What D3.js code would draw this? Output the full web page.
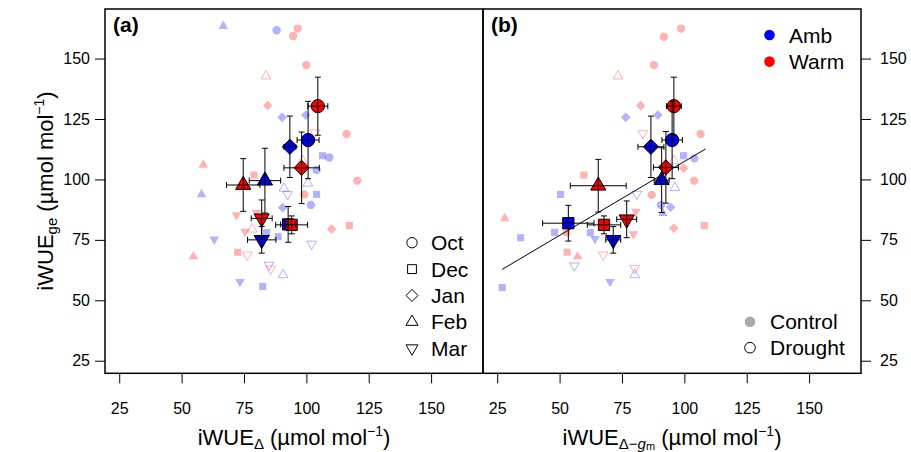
<!DOCTYPE html>
<html>
<head>
<meta charset="utf-8">
<script src="https://cdn.jsdelivr.net/npm/d3@7"></script>
<style>
  body { margin: 0; background: #fff; }
  text { font-family: "Liberation Sans", Arial, sans-serif; }
</style>
</head>
<body>
<script>
// months -> symbol, treatments -> colour, water -> filled / open
const months = ["Oct", "Dec", "Jan", "Feb", "Mar"];
const treatments = ["Amb", "Warm"];
const waterLevels = ["Control", "Drought"];
const yTicks = [25, 50, 75, 100, 125, 150];
const xTicks = [25, 50, 75, 100, 125, 150];

// individual points, panel (a): [month, treatment, water, iWUE_delta, iWUE_ge]
const pointsA = [
  ["Feb","Amb","C",66.7,163.4],["Oct","Amb","C",88.1,161.7],["Oct","Warm","C",94.7,159.3],
  ["Oct","Warm","C",96.5,162.4],["Oct","Warm","C",100,147.3],["Feb","Warm","D",83.8,142.7],
  ["Jan","Warm","C",84.5,130.6],["Jan","Amb","C",90.3,125.7],["Jan","Amb","C",99.8,126.6],
  ["Mar","Warm","D",103.4,119.3],["Oct","Warm","C",116.1,118.8],["Dec","Amb","C",106.5,109.8],
  ["Oct","Amb","C",109.2,109.1],["Oct","Amb","C",104.1,103.9],["Oct","Warm","C",120.4,99.5],
  ["Feb","Warm","D",98.5,107.7],["Feb","Amb","D",100.6,98.4],["Feb","Warm","C",58.7,106],
  ["Dec","Warm","C",79,101.8],["Feb","Amb","D",91,96.3],["Mar","Amb","D",92.5,93.8],
  ["Oct","Warm","C",99.2,93.8],["Dec","Amb","C",104.1,93.8],["Oct","Amb","C",101.8,89.4],
  ["Jan","Amb","C",90.5,88.3],["Jan","Warm","C",110.1,79.5],["Dec","Warm","C",117.2,80.9],
  ["Mar","Amb","D",102.1,73.3],["Feb","Warm","C",54.7,68.1],["Feb","Amb","C",58,93.8],
  ["Mar","Amb","C",63.1,75.2],["Mar","Warm","C",72,85.3],["Mar","Warm","C",80,86.2],
  ["Mar","Warm","C",75.4,78.4],["Feb","Warm","D",78.3,79.4],["Dec","Amb","C",84.1,78],
  ["Dec","Amb","C",88.7,76.3],["Dec","Warm","C",72.5,69.9],["Mar","Warm","D",76.3,68.8],
  ["Mar","Amb","D",85,64.6],["Mar","Warm","D",85.7,63],["Feb","Amb","D",90.7,60.5],
  ["Mar","Amb","C",73.4,57.7],["Dec","Amb","C",82.5,55.7]
];

// individual points, panel (b): [month, treatment, water, iWUE_delta-gm, iWUE_ge]
const pointsB = [
  ["Oct","Warm","C",91.8,159],["Oct","Warm","C",98.7,162.4],["Oct","Warm","C",87.8,147.3],
  ["Feb","Warm","D",73.4,142.7],["Jan","Warm","C",82.5,130.5],["Jan","Amb","C",76.5,125.7],
  ["Jan","Amb","C",89.4,126.6],["Mar","Warm","D",83.4,119],["Oct","Warm","C",106.5,118.8],
  ["Dec","Amb","C",99.7,109.8],["Oct","Amb","C",104,108.7],["Feb","Warm","D",95.8,107.7],
  ["Oct","Warm","C",103.9,99.5],["Jan","Warm","C",99.7,104.6],["Feb","Amb","D",96.2,96.6],
  ["Mar","Amb","D",81,94],["Oct","Warm","C",86.9,93.6],["Oct","Amb","C",90.6,89.4],
  ["Jan","Amb","C",94.5,88.5],["Jan","Warm","C",95.8,79.8],["Dec","Warm","C",108,80.9],
  ["Dec","Amb","C",50.4,93.8],["Mar","Warm","C",80.6,86.7],["Mar","Warm","C",79.6,77.4],
  ["Mar","Amb","C",64.2,75.4],["Dec","Amb","C",34.4,75.9],["Dec","Amb","C",48,78.1],
  ["Dec","Amb","C",62.3,78],["Dec","Warm","C",53,69.9],["Dec","Warm","C",52.8,78.1],
  ["Feb","Warm","C",57.2,68.1],["Mar","Amb","D",55.9,64.3],["Mar","Warm","D",67.5,68.8],
  ["Mar","Warm","D",80.1,63.3],["Feb","Amb","D",80.1,60.5],["Mar","Amb","C",70.2,57.7],
  ["Dec","Amb","C",27,55.3],["Feb","Warm","C",28,83.9],["Feb","Amb","C",91.4,86],
  ["Dec","Warm","C",59.7,101.8]
];

// treatment means: [month, treatment, x, y, x error, y error]
const meansA = [
  ["Oct","Amb",100.7,116.3,4.4,16],["Oct","Warm",104.6,130.3,4.0,12],
  ["Dec","Amb",92.7,81.4,3,7.4],["Dec","Warm",94.1,81.2,6.4,3.7],
  ["Jan","Amb",93.4,113.5,2.4,12.7],["Jan","Warm",98.1,104.8,7.1,14.8],
  ["Feb","Amb",83.4,99.5,6.3,13.4],["Feb","Warm",74.7,97.7,6.7,10.9],
  ["Mar","Amb",82.1,75,5.7,5.5],["Mar","Warm",82.1,83.9,4.2,7.6]
];
const meansB = [
  ["Oct","Amb",95.1,116.3,4.1,16],["Oct","Warm",95.8,130.3,3,12],
  ["Dec","Amb",53.5,81.9,10.3,7.4],["Dec","Warm",67.8,81.2,6.7,3.7],
  ["Jan","Amb",86.6,113.5,5.2,12.7],["Jan","Warm",92.6,105,5,14.8],
  ["Feb","Amb",90.9,99.7,3,13.4],["Feb","Warm",65.5,97.4,11.2,10.9],
  ["Mar","Amb",71.5,75,3,5.5],["Mar","Warm",76.9,83.5,4,7.6]
];

// fitted line in panel (b)
const fitX = [27, 108.5];
const fitIntercept = 46.3, fitSlope = 0.611;

const colour = { Amb: "#0000ff", Warm: "#ff0000" };

const W = 911, H = 452;
const plotTop = 9, plotBottom = 373.3;
const panels = [
  { left: 105, right: 483, pts: pointsA, means: meansA, label: "(a)" },
  { left: 483, right: 861, pts: pointsB, means: meansB, label: "(b)" }
];

const svg = d3.select("body").append("svg").attr("width", W).attr("height", H);
const y = d3.scaleLinear().domain([19.8, 170.5]).range([plotBottom, plotTop]);

// symbol paths in pixels, r ~ radius
function shape(m, r) {
  if (m === "Oct") return `M${r},0A${r},${r},0,1,1,${-r},0A${r},${r},0,1,1,${r},0Z`;
  if (m === "Dec") { const h = r * 0.85; return `M${-h},${-h}H${h}V${h}H${-h}Z`; }
  if (m === "Jan") { const d = r * 1.15; return `M0,${-d}L${d},0L0,${d}L${-d},0Z`; }
  const w = r * 2.3, rc = w / Math.sqrt(3);
  if (m === "Feb") return `M0,${-rc}L${w/2},${rc/2}L${-w/2},${rc/2}Z`;
  return `M0,${rc}L${w/2},${-rc/2}L${-w/2},${-rc/2}Z`;
}

panels.forEach((p, i) => {
  const x = d3.scaleLinear().domain([19.3, 170.8]).range([p.left, p.right]);
  const g = svg.append("g");

  // faded single points
  g.selectAll("path.pt").data(p.pts).enter().append("path")
    .attr("class", "pt")
    .attr("transform", d => `translate(${x(d[3])},${y(d[4])})`)
    .attr("d", d => shape(d[0], 4.2))
    .attr("fill", d => d[2] === "C" ? colour[d[1]] : "none")
    .attr("fill-opacity", 0.3)
    .attr("stroke", d => d[2] === "D" ? colour[d[1]] : "none")
    .attr("stroke-opacity", 0.3)
    .attr("stroke-width", 1);

  if (i === 1) {
    g.append("line")
      .attr("x1", x(fitX[0])).attr("y1", y(fitIntercept + fitSlope * fitX[0]))
      .attr("x2", x(fitX[1])).attr("y2", y(fitIntercept + fitSlope * fitX[1]))
      .attr("stroke", "#000").attr("stroke-width", 1);
  }

  // means
  g.selectAll("path.mean").data(p.means).enter().append("path")
    .attr("class", "mean")
    .attr("transform", d => `translate(${x(d[2])},${y(d[3])})`)
    .attr("d", d => shape(d[0], 6.6))
    .attr("fill", d => colour[d[1]])
    .attr("stroke", "#000").attr("stroke-width", 1);

  // error bars on top
  const cap = 3;
  const eb = g.selectAll("g.eb").data(p.means).enter().append("g")
    .attr("stroke", "#000").attr("stroke-width", 1).attr("fill", "none");
  eb.append("path").attr("d", d => {
    const cx = x(d[2]), cy = y(d[3]);
    const x0 = x(d[2] - d[4]), x1 = x(d[2] + d[4]);
    const y0 = y(d[3] - d[5]), y1 = y(d[3] + d[5]);
    return `M${x0},${cy}H${x1}M${x0},${cy - cap}V${cy + cap}M${x1},${cy - cap}V${cy + cap}` +
           `M${cx},${y0}V${y1}M${cx - cap},${y0}H${cx + cap}M${cx - cap},${y1}H${cx + cap}`;
  });

  // x axis
  const xa = svg.append("g").attr("transform", `translate(0,${plotBottom})`)
    .call(d3.axisBottom(x).tickValues(xTicks).tickSize(10).tickPadding(19).tickFormat(d3.format("d")));
  xa.select(".domain").remove();
  xa.selectAll("line").attr("stroke", "#000");
  xa.selectAll("text").style("font-size", "16px").attr("fill", "#000");

  // panel box
  svg.append("rect").attr("x", p.left).attr("y", plotTop)
    .attr("width", p.right - p.left).attr("height", plotBottom - plotTop)
    .attr("fill", "none").attr("stroke", "#000").attr("stroke-width", 1.5);

  svg.append("text").attr("x", p.left + 8).attr("y", 32)
    .style("font-size", "21px").style("font-weight", "bold").text(p.label);
});

// y axes left and right
const yl = svg.append("g").attr("transform", "translate(105,0)")
  .call(d3.axisLeft(y).tickValues(yTicks).tickSize(10).tickPadding(5));
const yr = svg.append("g").attr("transform", "translate(861,0)")
  .call(d3.axisRight(y).tickValues(yTicks).tickSize(10).tickPadding(9));
[yl, yr].forEach(a => {
  a.select(".domain").remove();
  a.selectAll("line").attr("stroke", "#000");
  a.selectAll("text").style("font-size", "16px").attr("fill", "#000");
});

// axis titles
const yt = svg.append("text").attr("transform", "translate(53,191) rotate(-90)")
  .attr("text-anchor", "middle").style("font-size", "22px");
yt.append("tspan").text("iWUE");
yt.append("tspan").attr("baseline-shift", "-25%").style("font-size", "15px").text("ge");
yt.append("tspan").text(" (\u00b5mol mol");
yt.append("tspan").attr("baseline-shift", "65%").style("font-size", "14px").text("\u22121");
yt.append("tspan").text(")");

const xt1 = svg.append("text").attr("x", 294).attr("y", 445)
  .attr("text-anchor", "middle").style("font-size", "22px");
xt1.append("tspan").text("iWUE");
xt1.append("tspan").attr("baseline-shift", "-25%").style("font-size", "15px").text("\u0394");
xt1.append("tspan").text(" (\u00b5mol mol");
xt1.append("tspan").attr("baseline-shift", "65%").style("font-size", "14px").text("\u22121");
xt1.append("tspan").text(")");

const xt2 = svg.append("text").attr("x", 672).attr("y", 445)
  .attr("text-anchor", "middle").style("font-size", "22px");
xt2.append("tspan").text("iWUE");
xt2.append("tspan").attr("baseline-shift", "-25%").style("font-size", "15px").text("\u0394\u2212");
xt2.append("tspan").attr("baseline-shift", "-25%").style("font-size", "15px").style("font-style", "italic").text("g");
xt2.append("tspan").attr("baseline-shift", "-45%").style("font-size", "11px").text("m");
xt2.append("tspan").text(" (\u00b5mol mol");
xt2.append("tspan").attr("baseline-shift", "65%").style("font-size", "14px").text("\u22121");
xt2.append("tspan").text(")");

// month legend in panel (a)
const lm = svg.append("g");
months.forEach((m, i) => {
  const cy = 242.7 + i * 26.4;
  lm.append("path").attr("transform", `translate(412,${cy})`).attr("d", shape(m, 5.2))
    .attr("fill", "none").attr("stroke", "#000").attr("stroke-width", 1);
  lm.append("text").attr("x", 431).attr("y", cy + 7.5).style("font-size", "21px").text(m);
});

// treatment legend in panel (b)
treatments.forEach((t, i) => {
  const cy = 35 + i * 26.6;
  svg.append("circle").attr("cx", 769.5).attr("cy", cy).attr("r", 5.3).attr("fill", colour[t]);
  svg.append("text").attr("x", 789).attr("y", cy + 7.5).style("font-size", "21px").text(t);
});

// water legend in panel (b)
waterLevels.forEach((w, i) => {
  const cy = 321.7 + i * 26;
  svg.append("circle").attr("cx", 750).attr("cy", cy).attr("r", 5.3)
    .attr("fill", i === 0 ? "#a9a9a9" : "none")
    .attr("stroke", i === 0 ? "none" : "#000").attr("stroke-width", 1);
  svg.append("text").attr("x", 770).attr("y", cy + 7.5).style("font-size", "21px").text(w);
});
</script>
</body>
</html>
